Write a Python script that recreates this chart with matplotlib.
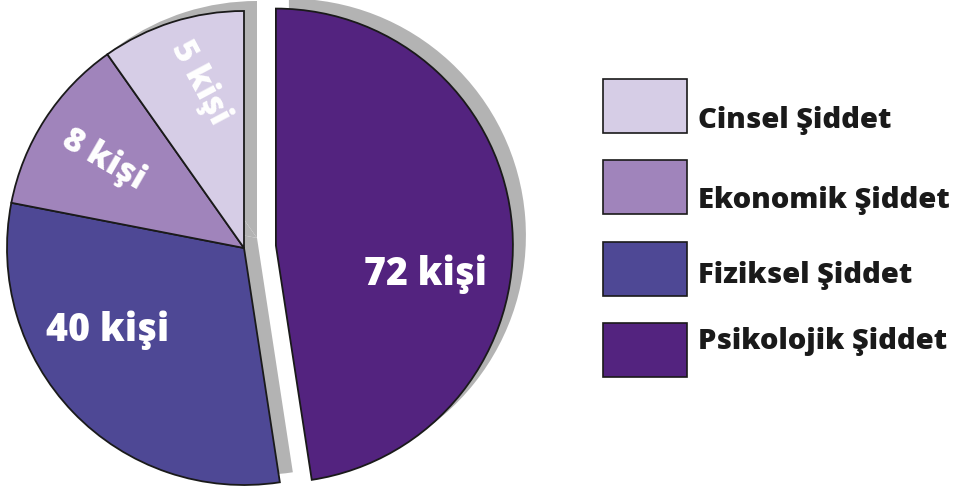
import matplotlib
matplotlib.use("Agg")
from matplotlib import pyplot as plt
from matplotlib.patches import Rectangle

plt.rcParams['font.family'] = ['Open Sans', 'DejaVu Sans']

# slices, clockwise from the top (angles, in degrees)
categories = ["Psikolojik Şiddet", "Fiziksel Şiddet", "Ekonomik Şiddet", "Cinsel Şiddet"]
counts = [72, 40, 8, 5]
slice_deg = [171.3, 109.7, 43.8, 35.2]
colors = ["#53237f", "#4e4895", "#a084bb", "#d6cde6"]

W, H = 963, 491
fig = plt.figure(figsize=(W / 100, H / 100), dpi=100)
ax = fig.add_axes([0, 0, 1, 1])

cx, cy, r = 244, H - 248, 237
explode = [32, 0, 0, 0]   # pie takes this in data units (px here)

# gray shadow copy, shifted right/up
ax.pie(slice_deg, explode=explode, colors=["#b3b3b3"] * 4, startangle=90,
       counterclock=False, center=(cx + 13, cy + 10), radius=r,
       wedgeprops=dict(linewidth=0), frame=True)
ax.pie(slice_deg, explode=explode, colors=colors, startangle=90,
       counterclock=False, center=(cx, cy), radius=r,
       wedgeprops=dict(edgecolor="#1a1a1a", linewidth=1.3), frame=True)
ax.set_xlim(0, W)
ax.set_ylim(0, H)
ax.set_aspect("equal")
ax.axis("off")

lab = dict(color="white", fontweight=800, ha="center", va="center")
ax.text(425, H - 274, f"{counts[0]} kişi", fontsize=27, **lab)
ax.text(108, H - 330, f"{counts[1]} kişi", fontsize=27, **lab)
ax.text(104, H - 160, f"{counts[2]} kişi", fontsize=24, rotation=-30, **lab)
ax.text(200, H - 83, f"{counts[3]} kişi", fontsize=24, rotation=-62, **lab)

# legend, top to bottom
leg_names = categories[::-1]
leg_colors = colors[::-1]
box_top = [79, 160, 242, 323]
text_mid = [120, 200, 276, 341]
for name, c, bt, tm in zip(leg_names, leg_colors, box_top, text_mid):
    ax.add_patch(Rectangle((603, H - bt - 54), 84, 54, facecolor=c,
                           edgecolor="#1a1a1a", linewidth=1.2))
    ax.text(698, H - tm, name, fontsize=21, fontweight=800,
            color="#1a1a1a", ha="left", va="center")

fig.savefig("out.png", dpi=100)
